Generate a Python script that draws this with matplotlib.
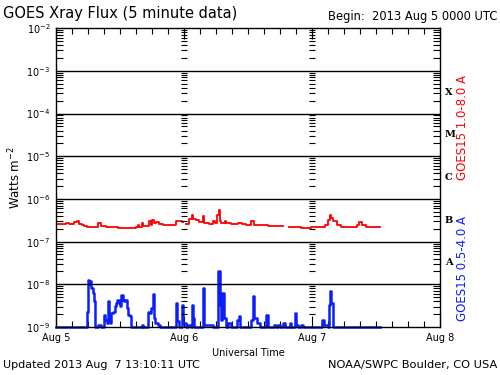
import numpy as np
import matplotlib
matplotlib.use("Agg")
import matplotlib.pyplot as plt
from matplotlib.ticker import LogLocator, FixedLocator, MultipleLocator, NullFormatter
from matplotlib.transforms import blended_transform_factory

nan = np.nan

# GOES15 1.0-8.0 A (hours since 2013 Aug 5 00:00 UTC, W m^-2)
long_hours = [0.0, 0.94, 1.88, 2.5, 3.44, 3.9, 4.4, 4.9, 5.3, 5.9, 6.9, 7.8, 8.4, 9.4,
              10.6, 11.6, 12.5, 13.75, 15.0, 15.3, 15.6, 16.1, 16.4, 17.5, 17.75, 18.06,
              18.4, 18.75, 19.25, 20.0, 20.9, 21.9, 22.5, 23.0, 23.6, 23.9, 24.4, 25.0,
              25.5, 25.75, 26.25, 26.9, 27.5, 27.8, 28.75, 29.4, 29.9, 30.25, 30.5, 30.7,
              31.0, 31.65, 31.95, 32.9, 34.15, 34.8, 35.7, 36.65, 37.15, 38.5, 39.8, 41.35,
              42.6, 43.65, 45.1, 46.0, 47.0, 47.9, 49.15, 50.4, 51.0, 51.4, 51.65, 51.95,
              52.6, 53.5, 55.1, 56.35, 56.8, 57.3, 58.2, 59.5, 60.7]
long_flux = [2.6e-7, 2.58e-7, 2.73e-7, 2.58e-7, 2.88e-7, 3.0e-7, 2.58e-7, 2.41e-7, 2.28e-7,
             2.2e-7, 2.16e-7, 2.73e-7, 2.28e-7, 2.2e-7, 2.16e-7, 2.12e-7, 2.08e-7, 2.12e-7,
             2.16e-7, 2.49e-7, 2.2e-7, 2.73e-7, 2.28e-7, 2.99e-7, 2.41e-7, 3.27e-7, 2.73e-7,
             2.88e-7, 2.58e-7, 2.49e-7, 2.41e-7, 2.49e-7, 2.99e-7, 3.1e-7, 2.88e-7, nan,
             2.63e-7, 3.44e-7, 4.27e-7, 3.44e-7, 3.27e-7, 2.88e-7, 3.9e-7, 2.73e-7, 2.63e-7,
             2.99e-7, 2.73e-7, 4.27e-7, 5.6e-7, 2.99e-7, 2.73e-7, 3.1e-7, 2.73e-7, 2.58e-7,
             2.73e-7, 2.58e-7, 2.49e-7, 3.1e-7, 2.41e-7, 2.41e-7, 2.28e-7, 2.28e-7, nan,
             2.2e-7, 2.2e-7, 2.12e-7, 2.08e-7, 2.16e-7, 2.2e-7, 2.49e-7, 3.27e-7, 4.3e-7,
             3.57e-7, 3.1e-7, 2.49e-7, 2.2e-7, 2.16e-7, 2.49e-7, 2.88e-7, 2.41e-7, 2.16e-7,
             2.2e-7, 2.2e-7]

# GOES15 0.5-4.0 A
short_hours = [0.0, 5.75, 6.06, 6.25, 6.44, 6.6, 6.9, 7.06, 7.25, 7.4, 7.8, 8.44, 9.06, 9.25,
               9.56, 9.75, 10.0, 10.2, 10.4, 10.75, 11.0, 11.25, 11.5, 11.75, 12.0, 12.25,
               12.5, 12.75, 13.0, 13.25, 13.5, 13.8, 14.1, 16.1, 16.4, 17.25, 17.6, 17.9,
               18.1, 18.3, 18.6, 19.06, 19.5, 22.5, 22.75, 23.1, 23.6, 23.9, 24.4, 24.75,
               25.4, 25.56, 25.75, 25.94, 27.5, 27.75, 29.4, 30.3, 30.7, 30.9, 31.15, 31.5,
               31.95, 32.3, 32.8, 34.0, 34.3, 34.5, 36.65, 36.85, 37.1, 37.6, 38.2, 39.45,
               39.8, 40.9, 41.2, 41.65, 41.95, 42.6, 43.0, 43.85, 44.15, 44.8, 45.0, 45.4,
               46.0, 46.3, 49.9, 50.3, 51.0, 51.15, 51.4, 51.65, 51.85, 60.7]
short_flux = [1.0e-9, 2.3e-9, 1.28e-8, 1.0e-8, 1.17e-8, 8.2e-9, 6.25e-9, 4.0e-9, 2.1e-9,
              1.0e-9, 1.13e-9, 1.0e-9, 1.95e-9, 1.49e-9, 1.24e-9, 4.0e-9, 1.62e-9, 1.24e-9,
              2.1e-9, 2.3e-9, 3.05e-9, 3.65e-9, 4.4e-9, 3.65e-9, 3.05e-9, 5.7e-9, 4.4e-9,
              4.0e-9, 4.4e-9, 2.8e-9, 1.95e-9, 1.78e-9, 1.0e-9, 1.13e-9, 1.0e-9, 2.3e-9,
              2.1e-9, 2.8e-9, 6.0e-9, 1.62e-9, 1.24e-9, 1.13e-9, 1.0e-9, 3.65e-9, 1.36e-9,
              1.0e-9, 3.3e-9, 1.24e-9, 1.0e-9, 1.13e-9, 1.0e-9, 3.3e-9, 1.62e-9, 1.0e-9,
              8.2e-9, 1.13e-9, 1.0e-9, 2.0e-8, 3.3e-9, 1.49e-9, 6.25e-9, 1.62e-9, 1.0e-9,
              1.24e-9, 1.0e-9, 1.49e-9, 1.78e-9, 1.0e-9, 1.49e-9, 5.2e-9, 1.62e-9, 1.24e-9,
              1.0e-9, 1.95e-9, 1.0e-9, 1.13e-9, 1.0e-9, 1.13e-9, 1.0e-9, 1.24e-9, 1.0e-9,
              1.24e-9, 1.0e-9, 2.1e-9, 1.13e-9, 1.0e-9, 1.13e-9, 1.0e-9, 1.49e-9, 1.13e-9,
              1.0e-9, 3.3e-9, 6.8e-9, 3.65e-9, 1.0e-9, 1.0e-9]

day_ticks = [0, 24, 48, 72]
day_labels = ["Aug 5", "Aug 6", "Aug 7", "Aug 8"]
classes = ["X", "M", "C", "B", "A"]
class_exp = [-3.5, -4.5, -5.5, -6.5, -7.5]


def main():
    fig = plt.figure(figsize=(5, 3.75), dpi=100)
    ax = fig.add_axes([0.112, 0.128, 0.768, 0.797])
    ax.set_yscale("log")
    ax.set_xlim(0, 72)
    ax.set_ylim(1e-9, 1e-2)

    ax.step(long_hours, long_flux, where="post", color="red", lw=1.3)
    ax.step(short_hours, short_flux, where="post", color="#0a1eff", lw=1.8, clip_on=False)

    for e in range(-8, -2):
        ax.axhline(10.0 ** e, color="black", lw=1)

    ax.yaxis.set_major_locator(LogLocator(base=10, numticks=12))
    ax.yaxis.set_minor_locator(LogLocator(base=10, subs=np.arange(2, 10), numticks=12))
    ax.yaxis.set_minor_formatter(NullFormatter())
    ax.xaxis.set_major_locator(FixedLocator(day_ticks))
    ax.set_xticklabels(day_labels)
    ax.xaxis.set_minor_locator(MultipleLocator(3))
    ax.tick_params(which="both", direction="in", top=True, right=True, width=0.8)
    ax.tick_params(axis="y", which="major", length=0, labelsize=7, pad=4)
    ax.tick_params(axis="y", which="minor", length=5)
    ax.tick_params(axis="x", which="major", length=8, labelsize=7, pad=4)
    ax.tick_params(axis="x", which="minor", length=4)
    for s in ax.spines.values():
        s.set_linewidth(1)

    # small tick marks along the day boundaries
    minor_y = [m * 10.0 ** e for e in range(-9, -2) for m in range(2, 10)]
    for d in day_ticks[1:3]:
        ax.plot([d] * len(minor_y), minor_y, ls="none", marker="_", ms=4,
                mew=0.8, color="black", clip_on=False)

    tr = blended_transform_factory(ax.transAxes, ax.transData)
    for c, e in zip(classes, class_exp):
        ax.text(1.012, 10.0 ** e, c, transform=tr, fontsize=7, fontweight="bold",
                family="serif", va="center", ha="left")

    fig.text(0.006, 0.963, "GOES Xray Flux (5 minute data)", fontsize=10.5, va="center")
    fig.text(0.994, 0.955, "Begin:  2013 Aug 5 0000 UTC", fontsize=8.3, va="center", ha="right")
    fig.text(0.006, 0.026, "Updated 2013 Aug  7 13:10:11 UTC", fontsize=8, va="center")
    fig.text(0.994, 0.026, "NOAA/SWPC Boulder, CO USA", fontsize=8.2, va="center", ha="right")
    fig.text(0.496, 0.059, "Universal Time", fontsize=7, va="center", ha="center")
    fig.text(0.03, 0.527, "Watts m$^{-2}$", fontsize=8.5, rotation=90, va="center", ha="center")
    fig.text(0.924, 0.659, "GOES15 1.0-8.0 A", fontsize=8.5, rotation=90, color="red",
             va="center", ha="center")
    fig.text(0.924, 0.285, "GOES15 0.5-4.0 A", fontsize=8.5, rotation=90, color="#0a1eff",
             va="center", ha="center")

    fig.savefig("out.png", dpi=100)


if __name__ == "__main__":
    main()
